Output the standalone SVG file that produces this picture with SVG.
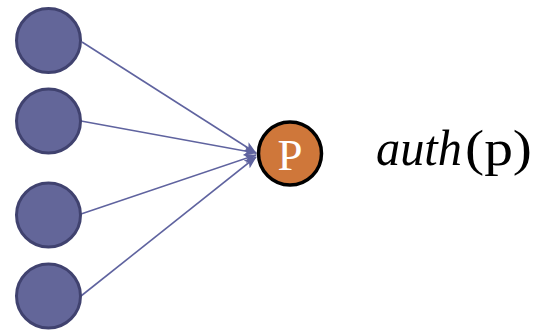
<svg xmlns="http://www.w3.org/2000/svg" width="538" height="331" viewBox="0 0 538 331">
<style>
.in{fill:#636699;stroke:#40426F;stroke-width:3}
.edge{stroke:#5F639F;stroke-width:1.6;fill:none;marker-end:url(#arr)}
.lbl{font-family:"Liberation Serif","DejaVu Serif",serif;font-size:50px;fill:#000}
</style>
<defs>
<marker id="arr" viewBox="0 0 13 10" refX="12" refY="5" markerWidth="13" markerHeight="10" markerUnits="userSpaceOnUse" orient="auto">
<path d="M0,0 L13,5 L0,10 L3,5 Z" fill="#5F639F"/>
</marker>
</defs>
<rect width="538" height="331" fill="#fff"/>
<g id="connectors">
<line class="edge" x1="82" y1="42" x2="256" y2="153"/>
<line class="edge" x1="81" y1="121" x2="256" y2="153"/>
<line class="edge" x1="81" y1="214" x2="256" y2="155"/>
<line class="edge" x1="81" y1="296" x2="256" y2="157"/>
</g>
<g id="n1"><circle class="in" cx="48.5" cy="40.5" r="32"/></g>
<g id="n2"><circle class="in" cx="48.5" cy="121" r="32"/></g>
<g id="n3"><circle class="in" cx="48.5" cy="215" r="32"/></g>
<g id="n4"><circle class="in" cx="48.5" cy="296" r="32"/></g>
<g id="p">
<circle cx="290" cy="153.5" r="31.5" fill="#CF773A" stroke="#000" stroke-width="3.5"/>
<text x="290" y="170" text-anchor="middle" font-family="Liberation Serif,serif" font-size="45" fill="#fff">P</text>
</g>
<g id="label">
<text class="lbl" y="165"><tspan x="376" font-style="italic" textLength="86" lengthAdjust="spacingAndGlyphs">auth</tspan><tspan x="465" textLength="67" lengthAdjust="spacingAndGlyphs">(p)</tspan></text>
</g>
</svg>
